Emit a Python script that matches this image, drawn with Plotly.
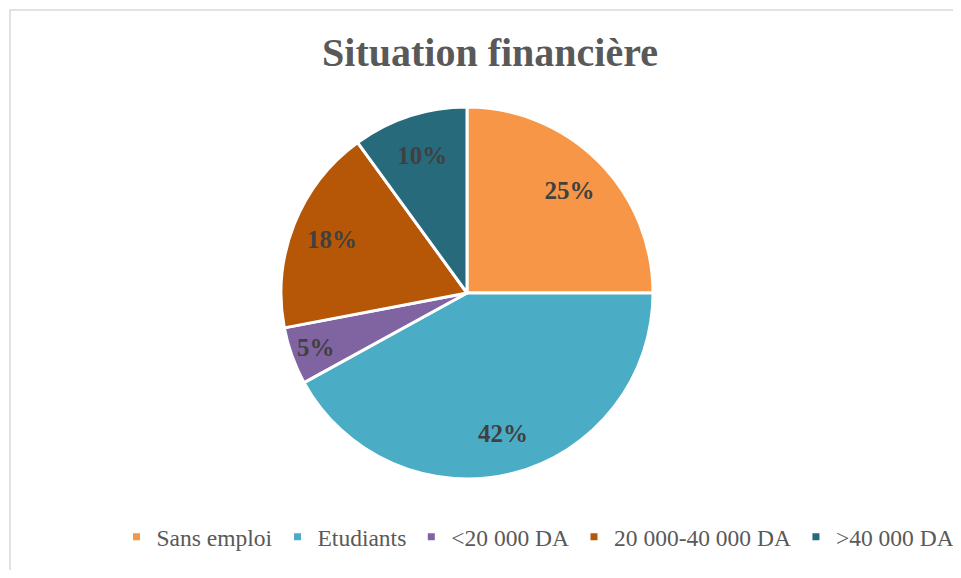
import plotly.graph_objects as go

categories = ["Sans emploi", "Etudiants", "<20 000 DA", "20 000-40 000 DA", ">40 000 DA"]
values = [25, 42, 5, 18, 10]
colors = ["#F79646", "#4BACC6", "#8064A2", "#B65708", "#276A7C"]

OFF = 8  # page body margin offset
W, H = 961 - OFF, 578 - 2 * OFF
cx, cy, r = 467 - OFF, 293 - OFF, 186
dom = dict(x=[(cx - r) / W, (cx + r) / W], y=[(H - cy - r) / H, (H - cy + r) / H])

fig = go.Figure()
# coloured slices
fig.add_trace(go.Pie(
    labels=categories, values=values, sort=False, direction="clockwise", rotation=0,
    marker=dict(colors=colors, line=dict(color="white", width=3)),
    textinfo="none", domain=dom, showlegend=False, hoverinfo="label+percent",
))
# transparent ring carrying the percentage labels (pushes them outward like Excel)
fig.add_trace(go.Pie(
    labels=categories, values=values, sort=False, direction="clockwise", rotation=0,
    hole=0.56,
    marker=dict(colors=["rgba(0,0,0,0)"] * len(values), line=dict(width=0)),
    texttemplate="%{percent:.0%}", textposition="inside",
    insidetextorientation="horizontal",
    textfont=dict(family="Liberation Serif", size=25, color="#404040", weight="bold"),
    domain=dom, showlegend=False, hoverinfo="skip",
))
# legend entries with small square markers
for name, col in zip(categories, colors):
    fig.add_trace(go.Scatter(x=[None], y=[None], mode="markers", name=name,
                             marker=dict(symbol="square", size=7, color=col)))

fig.update_layout(
    width=W, height=H,
    margin=dict(l=0, r=0, t=0, b=0),
    paper_bgcolor="white", plot_bgcolor="white",
    xaxis=dict(visible=False), yaxis=dict(visible=False),
    title=dict(text="<b>Situation financière</b>", x=(490 - OFF) / W, xanchor="center",
               y=1 - (52 - OFF) / H, yanchor="middle",
               font=dict(family="Liberation Serif", size=40, color="#595959")),
    uniformtext=dict(minsize=25, mode="show"),
    legend=dict(orientation="h", x=(538 - OFF) / W, xanchor="center",
                y=1 - (537 - OFF) / H, yanchor="middle",
                font=dict(family="Liberation Serif", size=23.5, color="#595959"),
                itemwidth=30, traceorder="normal", bgcolor="rgba(0,0,0,0)"),
    shapes=[dict(type="rect", xref="paper", yref="paper",
                 x0=2 / W, x1=1.05, y0=-0.05, y1=1 - 2 / H,
                 line=dict(color="#D9D9D9", width=1.5), fillcolor="rgba(0,0,0,0)")],
)

fig.write_html("out.html")
